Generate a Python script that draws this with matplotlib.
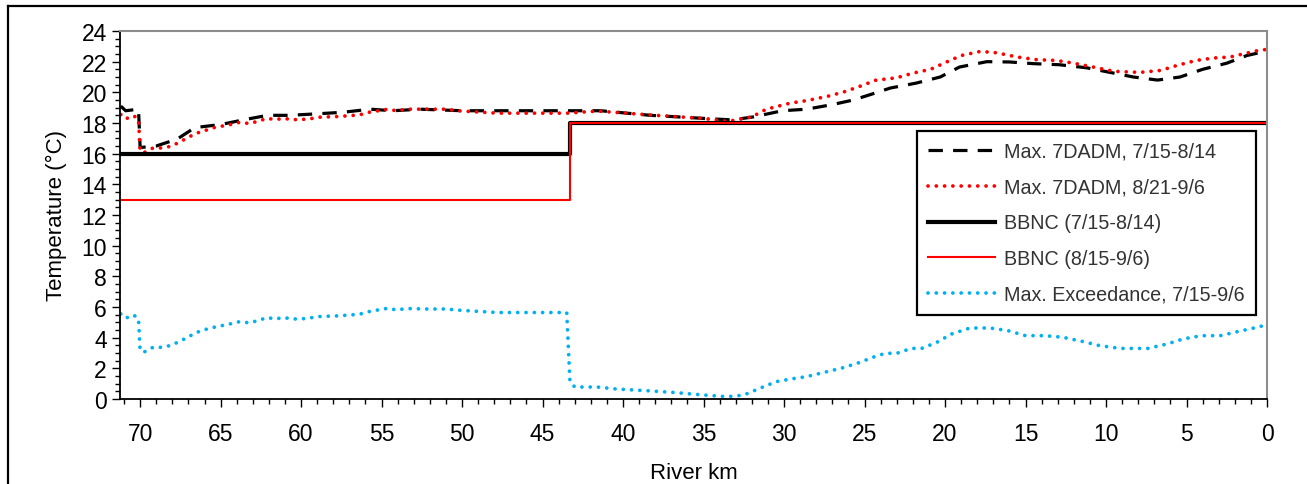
import matplotlib.pyplot as plt
from matplotlib.lines import Line2D
from matplotlib.ticker import MultipleLocator

plt.rcParams['font.family'] = ['Liberation Sans', 'DejaVu Sans']

# Max. 7DADM, 7/15-8/14 (black dashed)
km_7dadm_jul = [71.2, 70.9, 70.1, 70.0, 69.0, 67.7, 66.6, 65.0, 63.6, 62.1, 60.7, 59.0,
                57.4, 55.7, 54.3, 52.6, 50.0, 45.0, 41.4, 38.3, 36.6, 35.0, 33.2, 31.9,
                30.1, 28.6, 27.0, 25.7, 24.5, 23.4, 21.8, 20.3, 19.1, 17.4, 16.0, 14.5,
                12.9, 11.2, 9.75, 8.3, 6.8, 5.4, 4.0, 2.5, 1.25, 0.0]
t_7dadm_jul = [19.1, 18.8, 18.9, 16.4, 16.5, 16.95, 17.7, 17.9, 18.2, 18.5, 18.5, 18.6,
               18.7, 18.9, 18.8, 18.9, 18.8, 18.8, 18.8, 18.5, 18.4, 18.3, 18.2, 18.4,
               18.8, 18.9, 19.2, 19.5, 19.9, 20.28, 20.6, 21.0, 21.65, 22.0, 21.98, 21.87,
               21.8, 21.6, 21.3, 21.0, 20.8, 21.0, 21.5, 21.9, 22.4, 22.7]

# Max. 7DADM, 8/21-9/6 (red dotted)
km_7dadm_aug = [71.2, 70.9, 70.4, 70.1, 70.0, 69.7, 69.2, 68.6, 68.0, 67.5, 67.1, 66.6,
                66.0, 65.4, 64.9, 64.4, 63.8, 63.2, 62.65, 62.1, 61.6, 61.1, 60.5, 60.0,
                59.3, 58.7, 58.1, 57.5, 56.9, 56.3, 55.7, 55.2, 54.6, 54.1, 53.4, 51.0,
                50.3, 49.1, 47.8, 43.5, 41.6, 38.0, 35.0, 33.5, 32.0, 31.1, 29.6, 28.6,
                27.3, 26.3, 25.4, 24.3, 23.0, 22.0, 20.9, 19.9, 19.0, 17.8, 16.8, 15.5,
                14.3, 13.1, 12.0, 10.8, 9.5, 7.9, 6.6, 5.6, 4.4, 3.3, 2.3, 1.5, 0.55, 0.0]
t_7dadm_aug = [18.55, 18.27, 18.48, 18.22, 16.15, 16.1, 16.37, 16.37, 16.5, 16.8, 17.0, 17.3,
               17.5, 17.7, 17.8, 17.9, 18.05, 17.96, 18.13, 18.3, 18.22, 18.3, 18.22, 18.22,
               18.3, 18.4, 18.4, 18.44, 18.48, 18.55, 18.72, 18.8, 18.9, 18.8, 18.9, 18.9,
               18.8, 18.72, 18.64, 18.64, 18.78, 18.5, 18.3, 18.1, 18.4, 18.9, 19.3, 19.46,
               19.74, 20.02, 20.35, 20.79, 20.95, 21.25, 21.5, 21.98, 22.4, 22.67, 22.58, 22.3,
               22.13, 22.08, 21.9, 21.65, 21.37, 21.3, 21.43, 21.75, 22.08, 22.24, 22.3, 22.5,
               22.73, 22.8]

# BBNC criteria
km_bbnc = [71.2, 43.3, 43.3, 0.0]
t_bbnc_jul = [16, 16, 18, 18]
t_bbnc_aug = [13, 13, 18, 18]

# Max. Exceedance, 7/15-9/6 (blue dotted)
km_exceed = [71.2, 70.9, 70.4, 70.1, 70.0, 69.7, 69.2, 68.6, 68.0, 67.5, 67.1, 66.6,
             66.0, 65.4, 64.9, 64.4, 63.8, 63.2, 62.65, 62.1, 61.6, 61.1, 60.5, 60.0,
             59.3, 58.7, 58.1, 57.5, 56.9, 56.3, 55.7, 55.2, 54.6, 54.1, 53.4, 52.2,
             51.0, 50.3, 49.1, 47.8, 43.5, 43.3, 43.0, 41.6, 40.4, 38.5, 36.9, 35.0,
             33.8, 33.2, 32.5, 31.5, 30.5, 29.6, 28.6, 27.5, 26.4, 25.4, 24.3, 23.7,
             23.0, 22.1, 21.45, 20.5, 19.6, 18.45, 17.2, 16.1, 15.0, 13.8, 12.7, 11.4,
             10.4, 9.1, 7.4, 6.2, 5.2, 4.06, 2.9, 1.8, 0.6, 0.0]
t_exceed = [5.55, 5.27, 5.48, 5.22, 3.15, 3.09, 3.37, 3.37, 3.52, 3.8, 3.98, 4.3,
            4.52, 4.68, 4.79, 4.9, 5.05, 4.96, 5.13, 5.31, 5.22, 5.31, 5.22, 5.22,
            5.31, 5.4, 5.4, 5.44, 5.48, 5.55, 5.72, 5.81, 5.92, 5.81, 5.9, 5.87,
            5.87, 5.8, 5.72, 5.64, 5.64, 1.13, 0.78, 0.78, 0.65, 0.54, 0.43, 0.26,
            0.17, 0.17, 0.26, 0.7, 1.13, 1.3, 1.46, 1.74, 2.02, 2.35, 2.79, 2.98,
            2.98, 3.3, 3.3, 3.7, 4.24, 4.63, 4.63, 4.46, 4.13, 4.13, 4.03, 3.74,
            3.48, 3.3, 3.3, 3.59, 3.92, 4.13, 4.13, 4.4, 4.68, 4.85]

fig = plt.figure(figsize=(13.07, 4.85), dpi=100)
ax = fig.add_axes([120 / 1307, 1 - 400 / 485, 1147 / 1307, 368 / 485])

ax.plot(km_7dadm_jul, t_7dadm_jul, color='black', lw=2.3, linestyle=(0, (4.5, 3.2)),
        label='Max. 7DADM, 7/15-8/14')
ax.plot(km_7dadm_aug, t_7dadm_aug, color='#ff0000', lw=2.7, linestyle=(0, (0.01, 2.2)),
        dash_capstyle='round', label='Max. 7DADM, 8/21-9/6')
ax.plot(km_bbnc, t_bbnc_jul, color='black', lw=3.0, label='BBNC (7/15-8/14)')
ax.plot(km_bbnc, t_bbnc_aug, color='#ff0000', lw=1.5, label='BBNC (8/15-9/6)')
ax.plot(km_exceed, t_exceed, color='#00b0f0', lw=2.7, linestyle=(0, (0.01, 2.2)),
        dash_capstyle='round', label='Max. Exceedance, 7/15-9/6')

ax.set_xlim(71.25, 0)
ax.set_ylim(0, 24)
ax.xaxis.set_major_locator(MultipleLocator(5))
ax.xaxis.set_minor_locator(MultipleLocator(1))
ax.yaxis.set_major_locator(MultipleLocator(2))
ax.yaxis.set_minor_locator(MultipleLocator(0.5))
ax.tick_params(which='major', direction='out', length=5.5, width=1, labelsize=16.5,
               colors='black')
ax.tick_params(which='minor', direction='out', length=3.5, width=1)
ax.tick_params(axis='x', which='major', pad=11)
ax.tick_params(axis='y', which='major', pad=4)

for side in ['left', 'bottom']:
    ax.spines[side].set_color('black')
    ax.spines[side].set_linewidth(1.3)
for side in ['top', 'right']:
    ax.spines[side].set_color('#8c8c8c')
    ax.spines[side].set_linewidth(1.5)

ax.set_xlabel('River km', fontsize=16, labelpad=12)
ax.set_ylabel('Temperature (°C)', fontsize=16, labelpad=10)

leg = ax.legend(loc='upper right', bbox_to_anchor=(0.990, 0.728), borderaxespad=0,
                fontsize=14.2, frameon=True, fancybox=False, edgecolor='black',
                handlelength=3.4, handletextpad=0.45, labelspacing=0.85,
                borderpad=0.55, framealpha=1)
leg.get_frame().set_linewidth(1.6)
for txt in leg.get_texts():
    txt.set_color('#333333')

# outer frame of the picture
fig.add_artist(Line2D([8 / 1307, 1.0], [1 - 7 / 485, 1 - 7 / 485], color='black', lw=1.6))
fig.add_artist(Line2D([8 / 1307, 8 / 1307], [0.0, 1 - 7 / 485], color='black', lw=1.6))

fig.savefig('out.png', dpi=100)
